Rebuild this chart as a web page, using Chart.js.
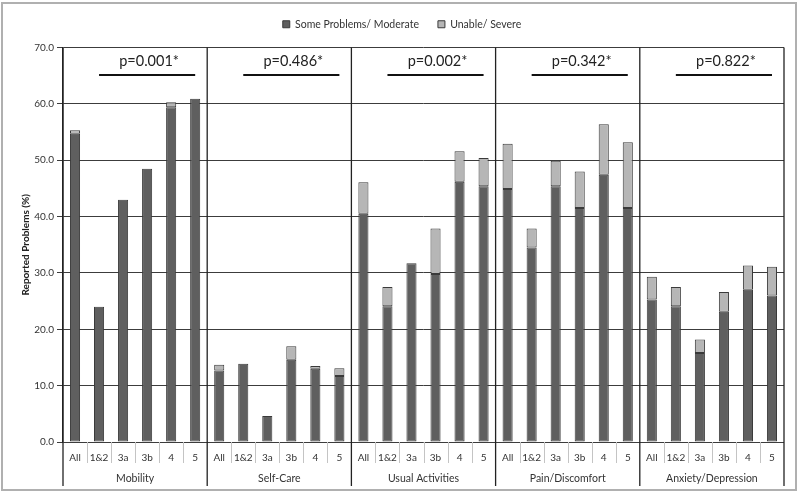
<!DOCTYPE html>
<html>
<head>
<meta charset="utf-8">
<script src="https://cdn.jsdelivr.net/npm/chart.js@4"></script>
<style>
html,body{margin:0;padding:0;background:#fff;}
#wrap{width:799px;height:494px;position:relative;}
</style>
</head>
<body>
<div id="wrap"><canvas id="c" width="799" height="494"></canvas></div>
<script>
const groups = ['Mobility','Self-Care','Usual Activities','Pain/Discomfort','Anxiety/Depression'];
const subgroups = ['All','1&2','3a','3b','4','5'];
const pValues = ['p=0.001*','p=0.486*','p=0.002*','p=0.342*','p=0.822*'];
const yTicks = [0,10,20,30,40,50,60,70];

const moderate = [
  54.7,24.0,43.0,48.5,59.4,60.9,
  12.7,13.9,4.6,14.6,13.0,11.7,
  40.5,24.1,31.7,29.8,46.2,45.4,
  44.9,34.5,45.4,41.5,47.4,41.5,
  25.3,24.1,15.8,23.1,27.0,26.0
];
const severe = [
  0.6,0,0,0,0.9,0,
  1.0,0,0,2.4,0.5,1.4,
  5.6,3.4,0,8.1,5.4,5.0,
  8.0,3.4,4.5,6.5,9.0,11.7,
  4.0,3.4,2.4,3.5,4.3,5.1
];

const labels = [];
groups.forEach(() => subgroups.forEach(s => labels.push(s)));

const FONT = 'Lato, "Open Sans", sans-serif';
const TXT = '#333';

const legendExtra = {
  id: 'legendExtra',
  beforeLayout(chart) {
    const lg = chart.legend;
    if (lg && !lg._wrapped) {
      const f = lg.fit.bind(lg);
      lg.fit = function () { f(); this.height += 8; };
      lg._wrapped = true;
    }
  }
};

const overlay = {
  id: 'overlay',
  afterDraw(chart) {
    const {ctx, chartArea: ca, scales: {x, y}} = chart;
    const n = labels.length;
    const step = (x.getPixelForValue(1) - x.getPixelForValue(0));
    const edge = i => x.getPixelForValue(i) - step / 2;
    ctx.save();
    ctx.strokeStyle = '#c4c4c4';
    ctx.lineWidth = 1;
    for (let i = 1; i < n; i++) {
      if (i % subgroups.length === 0) continue;
      const xx = Math.round(edge(i)) + 0.5;
      ctx.beginPath(); ctx.moveTo(xx, ca.bottom); ctx.lineTo(xx, ca.bottom + 21); ctx.stroke();
    }
    ctx.strokeStyle = '#222';
    ctx.lineWidth = 1.3;
    for (let g = 0; g <= groups.length; g++) {
      const xx = edge(g * subgroups.length);
      ctx.beginPath(); ctx.moveTo(xx, ca.top); ctx.lineTo(xx, ca.bottom + 44); ctx.stroke();
    }
    ctx.fillStyle = TXT;
    ctx.font = '10.5px ' + FONT;
    ctx.textAlign = 'center';
    ctx.textBaseline = 'middle';
    groups.forEach((gname, g) => {
      const cx = (edge(g * subgroups.length) + edge((g + 1) * subgroups.length)) / 2;
      ctx.fillText(gname, cx, ca.bottom + 37);
    });
    const ly = y.getPixelForValue(65.1);
    const ty = y.getPixelForValue(67.6);
    ctx.font = '14.5px ' + FONT;
    ctx.fillStyle = '#222';
    ctx.strokeStyle = '#111';
    ctx.lineWidth = 2;
    pValues.forEach((p, g) => {
      const x1 = x.getPixelForValue(g * subgroups.length + 1);
      const x2 = x.getPixelForValue(g * subgroups.length + 5);
      ctx.beginPath(); ctx.moveTo(x1, ly); ctx.lineTo(x2, ly); ctx.stroke();
      ctx.fillText(p, (x1 + x2) / 2 + 2, ty);
    });
    ctx.strokeStyle = '#b0b0b0';
    ctx.lineWidth = 2;
    ctx.strokeRect(2, 3, 794, 487);
    ctx.restore();
  }
};

new Chart(document.getElementById('c'), {
  type: 'bar',
  data: {
    labels: labels,
    datasets: [
      {
        label: 'Some Problems/ Moderate',
        data: moderate,
        backgroundColor: '#5f5f5f',
        borderColor: '#3a3a3a',
        borderWidth: c => (c.raw ? 1 : 0),
        borderSkipped: false,
        barPercentage: 0.42,
        categoryPercentage: 1.0
      },
      {
        label: 'Unable/ Severe',
        data: severe,
        backgroundColor: '#b6b6b6',
        borderColor: '#3a3a3a',
        borderWidth: c => (c.raw ? 1 : 0),
        borderSkipped: false,
        barPercentage: 0.42,
        categoryPercentage: 1.0
      }
    ]
  },
  options: {
    responsive: false,
    animation: false,
    layout: { padding: { top: 0, right: 15, bottom: 0, left: 20 } },
    plugins: {
      legend: {
        position: 'top',
        labels: {
          boxWidth: 7, boxHeight: 7, padding: 19,
          color: TXT, font: { family: FONT, size: 10.5 }
        }
      },
      tooltip: { enabled: false }
    },
    scales: {
      x: {
        stacked: true,
        grid: { display: false, drawTicks: false },
        border: { display: false },
        ticks: {
          color: TXT, font: { family: FONT, size: 10 },
          maxRotation: 0, autoSkip: false, padding: 10
        },
        afterFit(s) { s.height = 52; }
      },
      y: {
        stacked: true,
        min: 0, max: 70,
        afterBuildTicks(s) { s.ticks = yTicks.map(v => ({ value: v })); },
        grid: { color: '#3c3c3c', lineWidth: 1, tickLength: 6, drawTicks: true },
        border: { display: true, color: '#222', width: 1.3 },
        ticks: {
          color: TXT, font: { family: FONT, size: 10 }, padding: 3,
          callback: v => Number(v).toFixed(1)
        },
        title: {
          display: true, text: 'Reported Problems (%)', color: '#222',
          font: { family: FONT, size: 10, weight: 'bold' },
          padding: { top: 0, bottom: 0 }
        },
        afterFit(s) { s.width = 43; }
      }
    }
  },
  plugins: [legendExtra, overlay]
});
</script>
</body>
</html>
